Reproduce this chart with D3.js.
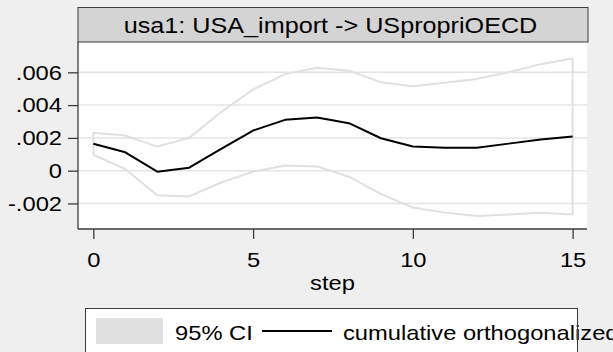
<!DOCTYPE html>
<html><head><meta charset="utf-8">
<script src="https://cdn.jsdelivr.net/npm/d3@7"></script>
<style>html,body{margin:0;padding:0;background:#efefef;}svg{display:block;font-family:"Liberation Sans",Arial,sans-serif;}</style>
</head><body>
<script>
const steps = [0,1,2,3,4,5,6,7,8,9,10,11,12,13,14,15];
const irf   = [0.00164,0.00112,-0.00006,0.00018,0.00133,0.00245,0.0031,0.00325,0.0029,0.00198,0.00147,0.0014,0.0014,0.00165,0.0019,0.00209];
const upper = [0.00231,0.00215,0.00147,0.0020,0.00358,0.00495,0.00589,0.00628,0.0061,0.0054,0.00515,0.00536,0.0056,0.0060,0.0065,0.00685];
const lower = [0.00096,0.0001,-0.0015,-0.00157,-0.00072,-0.00006,0.00031,0.00026,-0.00037,-0.00143,-0.00225,-0.00256,-0.00276,-0.00268,-0.00256,-0.00268];
const yTicks = [-0.002,0,0.002,0.004,0.006];
const yTickLabels = ["-.002","0",".002",".004",".006"];
const xTicks = [0,5,10,15];
const panelTitle = "usa1: USA_import -> USpropriOECD";
const xTitle = "step";
const legendLabels = ["95% CI","cumulative orthogonalized irf"];

const W=613,H=352, SX=1.13, FS=21;
const svg=d3.select("body").append("svg").attr("width",W).attr("height",H);
svg.append("rect").attr("width",W).attr("height",H).attr("fill","#efefef");

function label(x,yb,txt,anchor,fs){
  return svg.append("text").attr("transform",`translate(${x},${yb}) scale(${SX},1)`)
    .attr("text-anchor",anchor||"start").attr("font-size",fs||FS).attr("fill","#000").text(txt);
}

const pl=78, pr=587, pt=42, pb=229;
const x=d3.scaleLinear().domain([-0.48,15.45]).range([pl,pr]);
const y=d3.scaleLinear().domain([-0.00362,0.00779]).range([pb+1,pt+1]);

// plot region
svg.append("rect").attr("x",pl).attr("y",pt).attr("width",pr-pl).attr("height",pb-pt).attr("fill","#ffffff");

// gridlines
svg.append("g").selectAll("line").data(yTicks).join("line")
  .attr("x1",pl).attr("x2",pr).attr("y1",d=>y(d)).attr("y2",d=>y(d))
  .attr("stroke","#e4e4e4").attr("stroke-width",1.5);

// CI outline polygon
const poly = steps.map((s,i)=>[s,upper[i]]).concat(steps.slice().reverse().map((s,i)=>[s,lower[steps.length-1-i]]));
svg.append("path")
  .attr("d",d3.line().x(d=>x(d[0])).y(d=>y(d[1]))(poly)+"Z")
  .attr("fill","none").attr("stroke","#e0e0e0").attr("stroke-width",2).attr("stroke-linejoin","round");

// irf line
svg.append("path").datum(steps.map((s,i)=>[s,irf[i]]))
  .attr("d",d3.line().x(d=>x(d[0])).y(d=>y(d[1])))
  .attr("fill","none").attr("stroke","#000").attr("stroke-width",2).attr("stroke-linejoin","round");

// y axis
const ya=svg.append("g").attr("transform",`translate(${pl},0)`)
  .call(d3.axisLeft(y).tickValues(yTicks).tickFormat((d,i)=>yTickLabels[i]).tickSize(10).tickPadding(5));
ya.select(".domain").attr("d",`M0,${pt}V${pb}`).attr("stroke","#3c3c3c").attr("stroke-width",1.3);
ya.selectAll(".tick line").attr("stroke","#3c3c3c").attr("stroke-width",1.3);
ya.selectAll(".tick text").attr("font-size",FS).attr("fill","#000").attr("font-family","Liberation Sans, Arial, sans-serif")
  .attr("x",-16/SX).attr("transform",`scale(${SX},1)`);

// x axis
const xa=svg.append("g").attr("transform",`translate(0,${pb})`)
  .call(d3.axisBottom(x).tickValues(xTicks).tickFormat(d3.format("d")).tickSize(10).tickPadding(7));
xa.select(".domain").attr("d",`M${pl},0H${pr}`).attr("stroke","#3c3c3c").attr("stroke-width",1.3);
xa.selectAll(".tick line").attr("stroke","#3c3c3c").attr("stroke-width",1.3);
xa.selectAll(".tick text").attr("font-size",FS).attr("fill","#000").attr("font-family","Liberation Sans, Arial, sans-serif")
  .attr("y",38).attr("dy",0).attr("transform",`scale(${SX},1)`);

label((pl+pr)/2,290,xTitle,"middle");

// panel title box
svg.append("rect").attr("x",pl).attr("y",7.5).attr("width",pr-pl+1).attr("height",34.5)
  .attr("fill","#d4d4d4").attr("stroke","#3c3c3c").attr("stroke-width",1);
label(330.5,33,panelTitle,"middle",22.3);

// legend
const lx=86, ly=309;
svg.append("rect").attr("x",lx-0.5).attr("y",ly-0.5).attr("width",492).attr("height",60)
  .attr("fill","#ffffff").attr("stroke","#3c3c3c").attr("stroke-width",1);
svg.append("rect").attr("x",96).attr("y",318).attr("width",67).attr("height",26).attr("fill","#e0e0e0");
label(175,340,legendLabels[0]);
svg.append("line").attr("x1",262).attr("x2",332).attr("y1",331).attr("y2",331)
  .attr("stroke","#000").attr("stroke-width",2);
label(343,340,legendLabels[1]);
// legend border drawn over text on the right
svg.append("line").attr("x1",lx+491.5).attr("x2",lx+491.5).attr("y1",ly).attr("y2",H).attr("stroke","#3c3c3c").attr("stroke-width",1);
</script>
</body></html>
